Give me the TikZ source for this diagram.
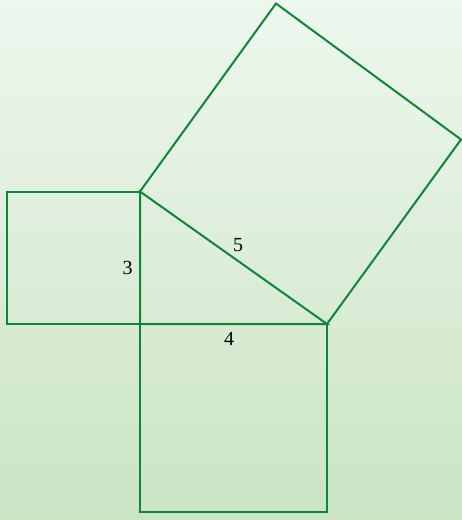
\documentclass[tikz,border=0pt]{standalone}
\usepackage{fontspec}
\setmainfont{Liberation Serif}
\definecolor{edge}{RGB}{14,134,54}
\definecolor{bgtop}{RGB}{238,247,238}
\definecolor{bgbot}{RGB}{202,228,196}
\begin{document}
\begin{tikzpicture}[x=1pt,y=-1pt,
  sq/.style={draw=edge,line width=2pt,line join=miter},
  lbl/.style={font=\fontsize{20}{20}\selectfont,inner sep=0pt}]
\shade[top color=bgtop,bottom color=bgbot] (0,0) rectangle (462,520);
\useasboundingbox (0,0) rectangle (462,520);
\coordinate (A) at (140,191.5);
\coordinate (B) at (140,324);
\coordinate (C) at (327,324);
\coordinate (E) at (276,3.5);
\coordinate (D) at (461,139.5);
\coordinate (L1) at (6.5,191.5);
\coordinate (L2) at (6.5,324);
\coordinate (F1) at (140,511.5);
\coordinate (F2) at (327,511.5);
% triangle
\draw[sq] (A) -- (B) -- (C) -- cycle;
% square on leg 3
\draw[sq] (A) -- (L1) -- (L2) -- (B);
% square on leg 4
\draw[sq] (B) -- (F1) -- (F2) -- (C);
% square on hypotenuse
\draw[sq] (A) -- (E) -- (D) -- (C);
\node[lbl] (n3) at (127.5,268) {3};
\node[lbl] (n5) at (238,245) {5};
\node[lbl] (n4) at (229,339) {4};
\end{tikzpicture}
\end{document}
